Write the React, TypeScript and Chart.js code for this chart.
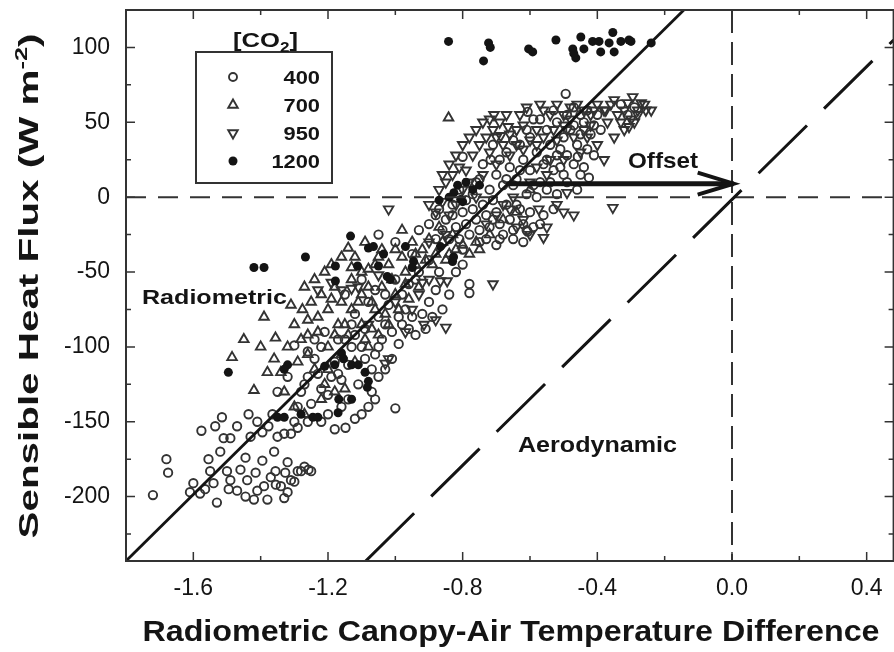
import React, { useEffect, useRef } from "react";
import { Chart, registerables } from "chart.js";
Chart.register(...registerables);

// ---- axis ranges & ticks ----
const X_MIN = -1.8;
const X_MAX = 0.48;
const Y_MIN = -243;
const Y_MAX = 125;
const xMajorTicks = [-1.6, -1.2, -0.8, -0.4, 0.0, 0.4];
const xMinorTicks = [-1.4, -1.0, -0.6, -0.2, 0.2];
const yMajorTicks = [-200, -150, -100, -50, 0, 50, 100];
const yMinorTicks = [-225, -175, -125, -75, -25, 25, 75];

// ---- legend ----
const co2Levels = ["400", "700", "950", "1200"];

// ---- data: [temperature difference, sensible heat flux] ----
const co2_400: number[][] = [
  [-1.72, -199], [-1.68, -175], [-1.675, -184], [-1.61, -197], [-1.58, -198], [-1.565, -195], [-1.576, -156],
  [-1.555, -175], [-1.55, -183], [-1.535, -153], [-1.515, -147], [-1.51, -161], [-1.49, -161], [-1.54, -191],
  [-1.53, -204], [-1.5, -183], [-1.49, -189], [-1.495, -195], [-1.47, -153], [-1.445, -174], [-1.436, -145],
  [-1.47, -196], [-1.445, -200], [-1.44, -189], [-1.415, -184], [-1.41, -150], [-1.395, -176], [-1.39, -193],
  [-1.395, -157], [-1.377, -153], [-1.365, -145], [-1.38, -202], [-1.37, -187], [-1.356, -183], [-1.355, -192],
  [-1.35, -160], [-1.33, -158], [-1.327, -184], [-1.32, -197], [-1.31, -189], [-1.29, -154], [-1.29, -183],
  [-1.31, -158], [-1.25, -183], [-1.32, -177], [-1.18, -155], [-1.148, -154], [-1.258, -182], [-1.28, -183],
  [-1.33, -201], [-1.42, -202], [-1.6, -191], [-1.36, -170], [-1.41, -196], [-1.34, -193], [-1.3, -190],
  [-1.27, -180], [-1.52, -170], [-1.46, -182], [-1.43, -160], [-1.0, -141],
  [-1.3, -99], [-1.26, -103], [-1.27, -125], [-1.25, -138], [-1.23, -118], [-1.2, -132], [-1.16, -122],
  [-1.14, -112], [-1.11, -125], [-1.07, -130], [-1.06, -105], [-1.04, -95], [-1.01, -108], [-0.99, -98],
  [-0.96, -88], [-0.94, -92], [-0.92, -78], [-0.9, -70], [-0.88, -62], [-0.86, -75], [-0.84, -65],
  [-0.82, -50], [-0.8, -45], [-0.87, -50], [-0.93, -50], [-1.0, -55], [-1.1, -100], [-1.18, -110],
  [-1.24, -108], [-1.32, -120], [-1.28, -130], [-1.22, -100], [-1.17, -95], [-1.13, -85], [-1.09, -88],
  [-1.05, -80], [-1.02, -72], [-0.98, -65], [-1.15, -65], [-1.1, -55], [-0.78, -58], [-0.78, -64],
  [-0.9, -42], [-0.95, -38], [-0.88, -28], [-0.93, -22], [-1.0, -30], [-1.05, -25],
  [-1.35, -130], [-1.3, -150], [-1.26, -150], [-1.22, -150], [-1.2, -145], [-1.16, -140], [-1.12, -148],
  [-1.08, -140], [-1.05, -120], [-1.03, -115], [-0.98, -85], [-0.95, -80], [-0.91, -88], [-0.89, -80],
  [-1.24, -95], [-1.21, -90], [-1.19, -120], [-1.17, -118], [-1.15, -95], [-1.13, -100], [-1.12, -92],
  [-1.09, -108], [-1.07, -115], [-1.05, -100], [-1.03, -85], [-1.01, -90], [-0.99, -80], [-0.97, -75],
  [-1.12, -78], [-1.08, -70], [-1.06, -62], [-1.03, -65], [-0.96, -58], [-0.94, -55], [-1.14, -135],
  [-1.1, -145], [-1.06, -135], [-1.26, -120], [-1.22, -128], [-1.29, -140],
  [-0.85, -15], [-0.82, -20], [-0.8, -10], [-0.78, -25], [-0.76, -15], [-0.74, -5], [-0.72, -20],
  [-0.7, -10], [-0.68, -25], [-0.66, -15], [-0.64, -5], [-0.62, -18], [-0.6, -10], [-0.58, 0],
  [-0.56, -12], [-0.72, 5], [-0.7, 15], [-0.68, 8], [-0.66, 20], [-0.64, 12], [-0.62, 25], [-0.6, 18],
  [-0.58, 30], [-0.56, 22], [-0.54, 35], [-0.52, 28], [-0.5, 40], [-0.48, 45], [-0.46, 35], [-0.44, 50],
  [-0.42, 42], [-0.4, 55], [-0.47, 60], [-0.52, 50], [-0.55, 45], [-0.57, 52], [-0.6, 40], [-0.63, 35],
  [-0.5, 15], [-0.46, 5], [-0.44, 20], [-0.8, 27], [-0.717, 25], [-0.607, 57], [-0.494, 69], [-0.425, 13],
  [-0.458, 27], [-0.607, -23], [-0.65, -22], [-0.75, -30], [-0.8, -35], [-0.87, -8], [-0.9, -18],
  [-0.84, -28], [-0.7, -32], [-0.62, -30], [-0.33, 62], [-0.31, 55], [-0.29, 60], [-0.76, 10],
  [-0.74, 22], [-0.54, 10], [-0.52, 2],
  [-0.83, -5], [-0.81, 5], [-0.79, -18], [-0.77, -8], [-0.75, -22], [-0.73, -12], [-0.71, -2],
  [-0.69, -18], [-0.67, -5], [-0.65, 8], [-0.63, -8], [-0.61, 2], [-0.59, -20], [-0.57, 10],
  [-0.55, 25], [-0.53, 18], [-0.51, 32], [-0.49, 28], [-0.47, 48], [-0.45, 42], [-0.43, 32],
  [-0.41, 28], [-0.39, 45], [-0.61, 45], [-0.59, 52], [-0.65, 38], [-0.67, 30], [-0.69, 25],
  [-0.71, 35], [-0.53, 58], [-0.49, 55], [-0.45, 55],
  [-0.88, -12], [-0.86, -22], [-0.83, -12], [-0.81, -28], [-0.79, -2], [-0.77, 2], [-0.75, 12],
  [-0.73, -28], [-0.71, -15], [-0.69, -28], [-0.67, 12], [-0.65, -28], [-0.63, 18], [-0.61, -22],
  [-0.59, 8], [-0.57, -18], [-0.55, 5], [-0.53, -8], [-0.51, 20], [-0.49, 10], [-0.47, 22],
  [-0.45, 15], [-0.43, 58], [-0.41, 48],
];

const co2_700: number[][] = [
  [-1.485, -107], [-1.42, -129], [-1.39, -80], [-1.356, -94], [-1.38, -117], [-1.34, -117], [-1.31, -72],
  [-1.276, -75], [-1.26, -82], [-1.3, -85], [-1.14, -34], [-0.98, -22], [-0.75, -35], [-0.842, 53],
  [-1.25, -70], [-1.22, -65], [-1.2, -75], [-1.18, -60], [-1.16, -70], [-1.13, -55], [-1.1, -50],
  [-1.08, -60], [-1.06, -45], [-1.04, -35], [-1.02, -45], [-1.0, -35], [-0.98, -40], [-0.95, -30],
  [-0.92, -35], [-0.9, -28], [-0.88, -38], [-0.86, -30], [-0.82, -35], [-0.8, -32], [-0.78, -38],
  [-1.12, -40], [-1.09, -30], [-1.23, -90], [-1.2, -100], [-1.17, -85], [-1.14, -92], [-1.26, -105],
  [-1.28, -95], [-1.24, -115], [-1.21, -125], [-1.18, -130], [-1.15, -128], [-1.12, -110], [-1.08, -100],
  [-1.05, -92], [-1.02, -85], [-0.99, -75], [-0.96, -68], [-0.93, -60], [-1.33, -130], [-1.3, -140],
  [-1.27, -145], [-1.22, -135], [-0.72, -25], [-0.68, -15], [-0.64, -10], [-0.6, 5],
  [-1.45, -95], [-1.4, -100], [-1.36, -108], [-1.32, -100], [-1.29, -110], [-1.27, -60], [-1.24, -55],
  [-1.21, -50], [-1.19, -45], [-1.16, -40], [-1.13, -47], [-1.1, -65], [-1.07, -70], [-1.04, -60],
  [-1.01, -55], [-0.97, -50], [-0.94, -45], [-0.91, -42], [-0.85, -42], [-0.83, -25], [-0.76, -30],
  [-1.2, -115], [-1.16, -105], [-1.1, -85], [-1.06, -75],
  [-1.18, -92], [-1.15, -85], [-1.13, -75], [-1.11, -70], [-1.19, -68], [-1.23, -80], [-1.26, -92],
  [-1.09, -95], [-1.07, -88], [-1.03, -78], [-1.0, -65], [-0.97, -58], [-0.94, -38], [-0.89, -45],
  [-0.87, -20], [-0.84, -38], [-1.05, -40], [-1.08, -48],
];

const co2_950: number[][] = [
  [-1.02, -8], [-1.23, -62], [-1.13, -61], [-1.11, -60], [-1.05, -52], [-0.846, -56], [-0.71, -58],
  [-0.915, -85], [-0.85, -87], [-0.9, -55], [-0.92, -57], [-0.866, -56], [-1.03, -111], [-1.02, -108],
  [-0.88, -82], [-0.95, -75], [-0.97, -90], [-1.0, -70], [-0.93, -65], [-1.08, -85], [-1.19, -57],
  [-1.16, -62],
  [-0.707, 55], [-0.687, 41], [-0.665, 47], [-0.574, -8], [-0.47, -12], [-0.354, -7], [-0.56, -27],
  [-0.49, 3], [-0.375, 58], [-0.35, 65], [-0.32, 58], [-0.295, 67], [-0.28, 58], [-0.256, 58], [-0.3, 52],
  [-0.306, 47], [-0.9, -5], [-0.88, -10], [-0.86, -3], [-0.84, -12], [-0.82, -5], [-0.8, 5], [-0.78, 10],
  [-0.76, 0], [-0.74, 15], [-0.72, 30], [-0.7, 22], [-0.68, 35], [-0.66, 28], [-0.64, 45], [-0.62, 48],
  [-0.6, 38], [-0.58, 45], [-0.56, 58], [-0.54, 55], [-0.52, 62], [-0.5, 55], [-0.48, 52], [-0.46, 62],
  [-0.44, 58], [-0.42, 48], [-0.4, 35], [-0.38, 25], [-0.45, 30], [-0.5, 25], [-0.55, 15], [-0.6, 10],
  [-0.65, 0], [-0.52, -5], [-0.58, 20], [-0.35, 40], [-0.4, 62], [-0.27, 63], [-0.33, 50], [-0.62, -15],
  [-0.55, -20], [-0.7, -12],
  [-0.87, 5], [-0.85, 10], [-0.83, 15], [-0.81, 20], [-0.79, 18], [-0.77, 28], [-0.75, 35], [-0.73, 40],
  [-0.71, 45], [-0.69, 50], [-0.67, 55], [-0.63, 55], [-0.61, 60], [-0.57, 62], [-0.53, 45], [-0.49, 45],
  [-0.47, 40], [-0.43, 40], [-0.41, 58], [-0.37, 50], [-0.34, 55], [-0.31, 63], [-0.29, 50], [-0.26, 62],
  [-0.66, -8], [-0.6, -25], [-0.5, -10],
  [-0.86, 15], [-0.84, 22], [-0.82, 28], [-0.8, 35], [-0.78, 40], [-0.76, 45], [-0.74, 50], [-0.72, 52],
  [-0.7, 40], [-0.66, 42], [-0.64, 35], [-0.62, 32], [-0.58, 35], [-0.56, 40], [-0.54, 25], [-0.52, 38],
  [-0.5, 48], [-0.48, 60], [-0.44, 45], [-0.42, 55], [-0.38, 58], [-0.36, 62], [-0.32, 45], [-0.28, 55],
  [-0.24, 58], [-0.9, -30], [-0.85, -25], [-0.73, -18], [-0.68, -5], [-0.64, -20],
];

const co2_1200: number[][] = [
  [-0.842, 104], [-0.723, 103], [-0.718, 100], [-0.738, 91], [-0.604, 99], [-0.592, 97], [-0.523, 105],
  [-0.473, 99], [-0.464, 93], [-0.47, 96], [-0.449, 107], [-0.44, 99], [-0.414, 104], [-0.395, 104],
  [-0.39, 97], [-0.354, 110], [-0.365, 103], [-0.35, 97], [-0.33, 104], [-0.306, 105], [-0.3, 104],
  [-0.24, 103],
  [-0.815, 8], [-0.806, -1.5], [-0.826, 3], [-0.79, 10], [-0.77, 5], [-0.75, 8], [-0.84, 0], [-0.87, -2],
  [-0.8, -3],
  [-1.133, -26], [-1.08, -34], [-1.065, -33], [-1.035, -38], [-1.267, -40], [-1.42, -47], [-1.39, -47],
  [-1.178, -46], [-1.112, -46], [-1.178, -56], [-1.05, -46], [-1.024, -53], [-1.015, -55], [-0.946, -43],
  [-0.95, -47], [-0.83, -43], [-0.827, -40], [-0.97, -33], [-0.866, -33],
  [-1.496, -117], [-1.32, -112], [-1.33, -115], [-1.21, -113], [-1.18, -112], [-1.16, -104], [-1.13, -112],
  [-1.11, -112], [-1.08, -123], [-1.083, -127], [-1.168, -135], [-1.13, -135], [-1.17, -144], [-1.35, -147],
  [-1.33, -147], [-1.28, -145], [-1.245, -147], [-1.23, -147], [-1.154, -108], [-1.09, -117],
];

// ---- reference lines (end points) ----
const radiometricLineX = [-1.8, -0.143];
const radiometricLineY = [-243, 125];
const aerodynamicLineX = [-1.088, 0.48];
const aerodynamicLineY = [-243, 105];
const offsetArrowX = [-0.67, 0.005];
const offsetArrowY = [9, 9];

const toPts = (a: number[][]) => a.map(([x, y]) => ({ x, y }));
const pair = (xs: number[], ys: number[]) => xs.map((x, i) => ({ x, y: ys[i] }));

const FONT = '"Liberation Sans", Arial, Helvetica, sans-serif';
const MARK = "#333333";
const INK = "#141414";
const CANVAS_W = 901;
const CANVAS_H = 652;

type Part = { t: string; size: number; dy?: number };

function drawParts(
  ctx: CanvasRenderingContext2D,
  parts: Part[],
  x: number,
  y: number,
  align: "left" | "center" | "right",
  opts: { target?: number; sx?: number; rotate?: number } = {}
) {
  ctx.save();
  ctx.fillStyle = INK;
  ctx.textBaseline = "alphabetic";
  ctx.textAlign = "left";
  let total = 0;
  const widths = parts.map((p) => {
    ctx.font = `bold ${p.size}px ${FONT}`;
    const w = ctx.measureText(p.t).width;
    total += w;
    return w;
  });
  const sx = opts.target ? opts.target / total : opts.sx ?? 1;
  ctx.translate(x, y);
  if (opts.rotate) ctx.rotate(opts.rotate);
  ctx.scale(sx, 1);
  let start = align === "center" ? -total / 2 : align === "right" ? -total : 0;
  parts.forEach((p, i) => {
    ctx.font = `bold ${p.size}px ${FONT}`;
    ctx.fillText(p.t, start, p.dy ?? 0);
    start += widths[i];
  });
  ctx.restore();
}

function drawMarker(ctx: CanvasRenderingContext2D, kind: number, x: number, y: number) {
  ctx.save();
  ctx.lineWidth = 1.9;
  ctx.strokeStyle = MARK;
  ctx.fillStyle = INK;
  ctx.beginPath();
  if (kind === 0) {
    ctx.arc(x, y, 4, 0, Math.PI * 2);
    ctx.stroke();
  } else if (kind === 1 || kind === 2) {
    const r = 5.5;
    const s = kind === 1 ? 1 : -1;
    ctx.moveTo(x, y - s * r);
    ctx.lineTo(x + r * 0.866, y + s * r * 0.5);
    ctx.lineTo(x - r * 0.866, y + s * r * 0.5);
    ctx.closePath();
    ctx.stroke();
  } else {
    ctx.arc(x, y, 4.5, 0, Math.PI * 2);
    ctx.fill();
  }
  ctx.restore();
}

const decorPlugin = {
  id: "decor",
  afterDraw(chart: any) {
    const ctx: CanvasRenderingContext2D = chart.ctx;
    const { left, right, top, bottom } = chart.chartArea;
    const xs = chart.scales.x;
    const ys = chart.scales.y;

    // arrow head
    const tipX = xs.getPixelForValue(offsetArrowX[1]);
    const tipY = ys.getPixelForValue(offsetArrowY[1]);
    ctx.save();
    ctx.strokeStyle = INK;
    ctx.lineWidth = 4;
    ctx.lineJoin = "miter";
    ctx.beginPath();
    ctx.moveTo(tipX - 36, tipY - 11);
    ctx.lineTo(tipX, tipY);
    ctx.lineTo(tipX - 36, tipY + 11);
    ctx.stroke();
    ctx.restore();

    // frame
    ctx.save();
    ctx.strokeStyle = "#333";
    ctx.lineWidth = 2;
    ctx.strokeRect(left, top, right - left, bottom - top);
    // inward ticks
    ctx.lineWidth = 1.5;
    ctx.beginPath();
    const xt = (vals: number[], len: number) =>
      vals.forEach((v) => {
        const p = xs.getPixelForValue(v);
        ctx.moveTo(p, bottom);
        ctx.lineTo(p, bottom - len);
        ctx.moveTo(p, top);
        ctx.lineTo(p, top + len);
      });
    const yt = (vals: number[], len: number) =>
      vals.forEach((v) => {
        const p = ys.getPixelForValue(v);
        ctx.moveTo(left, p);
        ctx.lineTo(left + len, p);
        ctx.moveTo(right, p);
        ctx.lineTo(right - len, p);
      });
    xt(xMajorTicks, 9);
    xt(xMinorTicks, 5);
    yt(yMajorTicks, 9);
    yt(yMinorTicks, 5);
    ctx.stroke();
    ctx.restore();

    // legend box
    ctx.save();
    ctx.strokeStyle = "#333";
    ctx.lineWidth = 2;
    ctx.strokeRect(196, 52, 136, 131);
    ctx.restore();
    const rowY = [77, 105, 133, 161];
    co2Levels.forEach((lab, i) => {
      drawMarker(ctx, i, 233, rowY[i]);
      drawParts(ctx, [{ t: lab, size: 19 }], 320, rowY[i] + 7, "right", { sx: 1.15 });
    });
    drawParts(
      ctx,
      [
        { t: "[CO", size: 21 },
        { t: "2", size: 14, dy: 5 },
        { t: "]", size: 21 },
      ],
      265.5,
      47,
      "center",
      { target: 65 }
    );

    // annotations
    drawParts(ctx, [{ t: "Radiometric", size: 21 }], 214.5, 304, "center", { target: 145 });
    drawParts(ctx, [{ t: "Offset", size: 22 }], 663, 168, "center", { target: 70 });
    drawParts(ctx, [{ t: "Aerodynamic", size: 22 }], 597.5, 452, "center", { target: 159 });

    // axis titles
    drawParts(
      ctx,
      [{ t: "Radiometric Canopy-Air Temperature Difference", size: 29 }],
      511,
      641,
      "center",
      { target: 737 }
    );
    drawParts(
      ctx,
      [
        { t: "Sensible Heat Flux (W m", size: 27 },
        { t: "-2", size: 17, dy: -11 },
        { t: ")", size: 27 },
      ],
      38,
      286,
      "center",
      { target: 505, rotate: -Math.PI / 2 }
    );
  },
};

const zeroPad = (s: any) => {
  s.paddingTop = 0;
  s.paddingBottom = 0;
  s.paddingLeft = 0;
  s.paddingRight = 0;
};

export default function App() {
  const ref = useRef<HTMLCanvasElement | null>(null);
  useEffect(() => {
    if (!ref.current) return;
    const lineBase = { showLine: true, pointRadius: 0, pointHoverRadius: 0, fill: false, tension: 0 };
    const scatterBase = { showLine: false, borderWidth: 1.9, backgroundColor: "rgba(0,0,0,0)", borderColor: MARK };
    const chart = new Chart(ref.current, {
      type: "scatter",
      data: {
        datasets: [
          { ...lineBase, label: "arrow", data: pair(offsetArrowX, offsetArrowY), borderColor: INK, borderWidth: 5 },
          { ...lineBase, label: "radiometric", data: pair(radiometricLineX, radiometricLineY), borderColor: INK, borderWidth: 2.8 },
          { ...lineBase, label: "aerodynamic", data: pair(aerodynamicLineX, aerodynamicLineY), borderColor: INK, borderWidth: 3, borderDash: [68, 24] },
          { ...lineBase, label: "zeroH", data: [{ x: X_MIN, y: 0 }, { x: X_MAX, y: 0 }], borderColor: "#333", borderWidth: 2, borderDash: [20, 12] },
          { ...lineBase, label: "zeroV", data: [{ x: 0, y: Y_MAX }, { x: 0, y: Y_MIN }], borderColor: "#333", borderWidth: 2, borderDash: [23, 9] },
          { ...scatterBase, label: "1200", data: toPts(co2_1200), pointStyle: "circle", pointRadius: 4.5, backgroundColor: INK, borderColor: INK, borderWidth: 0 },
          { ...scatterBase, label: "950", data: toPts(co2_950), pointStyle: "triangle", pointRadius: 5.5, rotation: 180 },
          { ...scatterBase, label: "700", data: toPts(co2_700), pointStyle: "triangle", pointRadius: 5.5 },
          { ...scatterBase, label: "400", data: toPts(co2_400), pointStyle: "circle", pointRadius: 4.2 },
        ] as any,
      },
      options: {
        animation: false,
        responsive: false,
        maintainAspectRatio: false,
        devicePixelRatio: 1,
        layout: { padding: { left: 0, top: 10, right: 1, bottom: 0 } },
        plugins: { legend: { display: false }, tooltip: { enabled: false } },
        events: [],
        scales: {
          x: {
            type: "linear",
            min: X_MIN,
            max: X_MAX,
            grid: { display: false, drawTicks: false },
            border: { display: false },
            afterBuildTicks: (s: any) => {
              s.ticks = xMajorTicks.map((v) => ({ value: v }));
            },
            afterFit: (s: any) => {
              s.height = 91;
              zeroPad(s);
            },
            ticks: {
              padding: 14,
              color: INK,
              font: { family: FONT, size: 23 },
              maxRotation: 0,
              autoSkip: false,
              callback: (v: any) => Number(v).toFixed(1),
            },
          },
          y: {
            type: "linear",
            min: Y_MIN,
            max: Y_MAX,
            grid: { display: false, drawTicks: false },
            border: { display: false },
            afterBuildTicks: (s: any) => {
              s.ticks = yMajorTicks.map((v) => ({ value: v }));
            },
            afterFit: (s: any) => {
              s.width = 126;
              zeroPad(s);
            },
            ticks: {
              padding: 16,
              color: INK,
              font: { family: FONT, size: 23 },
              autoSkip: false,
              callback: (v: any) => String(v),
            },
          },
        },
      } as any,
      plugins: [decorPlugin],
    });
    return () => chart.destroy();
  }, []);
  return (
    <div style={{ position: "absolute", left: 0, top: 0, width: 894, height: 652, overflow: "hidden", background: "#fff" }}>
      <canvas ref={ref} width={CANVAS_W} height={CANVAS_H} style={{ width: CANVAS_W, height: CANVAS_H, display: "block" }} />
    </div>
  );
}
